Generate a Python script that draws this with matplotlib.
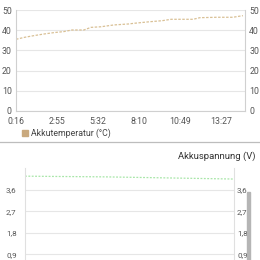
import matplotlib
matplotlib.use("Agg")
import matplotlib.pyplot as plt
from matplotlib.patches import Rectangle

plt.rcParams['font.family'] = ['Roboto', 'DejaVu Sans']

# temperature series (seconds, degC)
temp_t = [16, 50, 85, 123, 162, 200, 232, 278, 305, 344, 394, 452, 470,
          533, 580, 615, 700, 726, 792, 853, 892]
temp_v = [35.5, 36.5, 37.3, 38.1, 38.8, 39.3, 40.1, 40.1, 41.4, 41.7, 42.6,
          43.1, 43.4, 44.2, 44.7, 45.4, 45.4, 46.2, 46.4, 46.4, 47.2]

# voltage series (seconds, V)
volt_t = [16, 120, 240, 360, 480, 600, 720, 840, 900]
volt_v = [4.16, 4.15, 4.14, 4.13, 4.11, 4.09, 4.07, 4.05, 4.04]

time_ticks = [16, 175, 332, 490, 649, 807]
time_labels = ['0:16', '2:55', '5:32', '8:10', '10:49', '13:27']
temp_ticks = [0, 10, 20, 30, 40, 50]
volt_ticks = [0.9, 1.8, 2.7, 3.6]
volt_labels = ['0,9', '1,8', '2,7', '3,6']

txt = '#555555'
grid = '#e6e6e6'
W = 260.0

fig = plt.figure(figsize=(2.6, 2.6), dpi=100)
fig.patch.set_facecolor('white')

# --- top chart ---
ax = fig.add_axes([16 / W, 1 - 111 / W, 229 / W, 101 / W])
ax.plot(temp_t, temp_v, color='#d9c095', lw=0.9, dashes=(2.0, 1.2))
ax.set_xlim(16, 900)
ax.set_ylim(0, 50)
ax.set_yticks(temp_ticks)
ax.set_xticks(time_ticks)
ax.set_xticklabels(time_labels)
ax.grid(axis='y', color=grid, lw=0.8)
ax.tick_params(length=0, labelsize=6.3, colors=txt)
ax.tick_params(axis='x', pad=4)
ax.tick_params(axis='y', labelright=True, pad=3)
ax.spines['top'].set_visible(False)
for s in ['left', 'right', 'bottom']:
    ax.spines[s].set_color('#d0d0d0')
    ax.spines[s].set_linewidth(0.8)

# legend
fig.patches.append(Rectangle((22 / W, 1 - 136 / W), 6 / W, 6 / W,
                             transform=fig.transFigure, color='#c9a97e'))
fig.text(31 / W, 1 - 133 / W, 'Akkutemperatur (°C)', fontsize=6.3,
         color='#444444', va='center', ha='left')

# separator
fig.add_artist(plt.Line2D([0, 1], [1 - 142 / W, 1 - 142 / W],
                          transform=fig.transFigure, color='#bdbdbd', lw=0.9))

fig.text(255 / W, 1 - 156 / W, 'Akkuspannung (V)', fontsize=6.8,
         color='#333333', va='center', ha='right')

# --- bottom chart ---
ax2 = fig.add_axes([25 / W, 1 - 276 / W, 209 / W, 108 / W])
ax2.plot(volt_t, volt_v, color='#a8e6a8', lw=0.9, dashes=(1.5, 1.2))
ax2.set_xlim(16, 900)
ax2.set_ylim(0, 4.5)
ax2.set_yticks(volt_ticks)
ax2.set_yticklabels(volt_labels)
ax2.set_xticks([])
ax2.grid(axis='y', color=grid, lw=0.8)
ax2.tick_params(length=0, labelsize=5.8, colors=txt, pad=6)
ax2.tick_params(axis='y', labelright=True)
for s in ['top', 'bottom']:
    ax2.spines[s].set_visible(False)
for s in ['left', 'right']:
    ax2.spines[s].set_color('#e0e0e0')
    ax2.spines[s].set_linewidth(0.8)

# right-hand labels sit closer to the axis than the left ones
for t in ax2.yaxis.get_major_ticks():
    t.label2.set_transform(ax2.get_yaxis_transform())
    t.label2.set_x(1.0 + 3 / 209)

# scrollbar
fig.patches.append(Rectangle((247 / W, 0), 2.5 / W, 68 / W,
                             transform=fig.transFigure, color='#b5b5b5'))

fig.savefig('out.png', dpi=100)
